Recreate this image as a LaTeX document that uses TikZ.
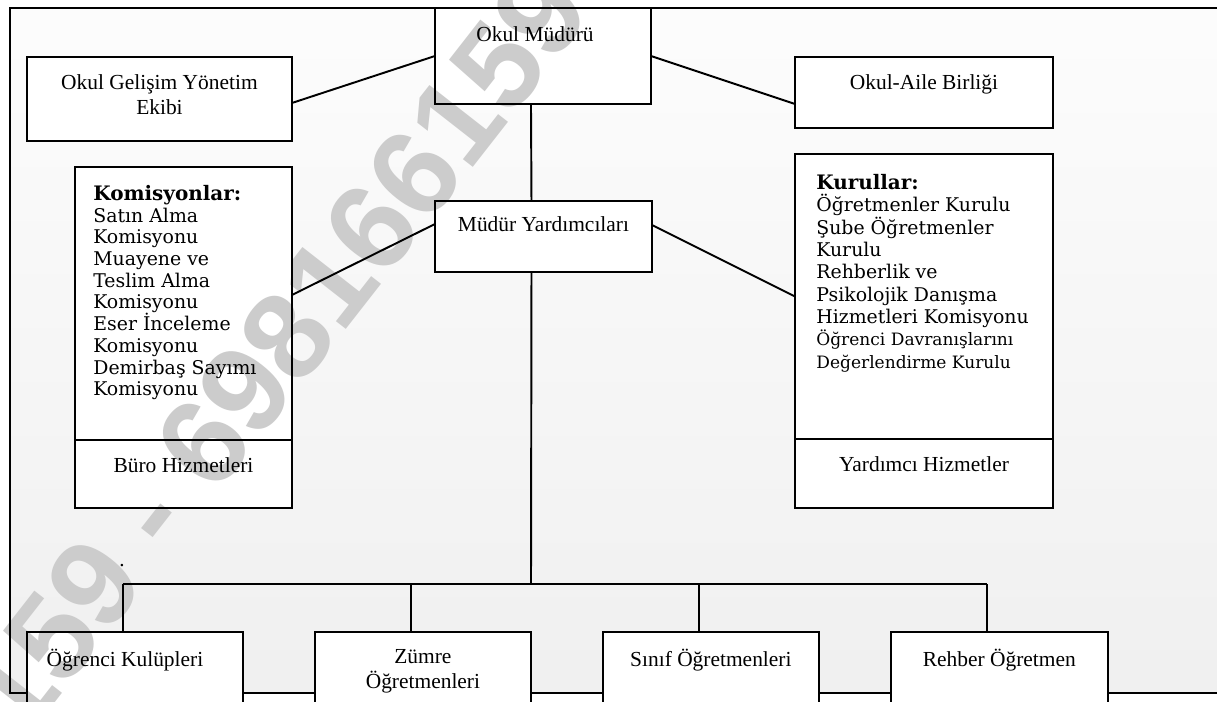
\documentclass[tikz,border=0pt]{standalone}
\usepackage{fontspec}
\setmainfont{Liberation Serif}
\newfontfamily\listfont{DejaVu Serif}
\newfontfamily\markfont{Liberation Sans}
\usetikzlibrary{positioning, backgrounds}

\begin{document}
\begin{tikzpicture}[x=0.02cm, y=-0.02cm,
  box/.style={draw, line width=1.1pt, anchor=north west, inner sep=0pt, outer sep=0pt},
  lbl/.style={anchor=north, inner sep=0pt, align=center, yshift=-0.34cm, font=\fontsize{12.2}{14.5}\selectfont},
  lst/.style={anchor=north west, inner sep=0pt, align=left, font=\listfont\fontsize{10.75}{#1}\selectfont},
  link/.style={line width=1.1pt},
  frame/.style={line width=1.6pt},
  wmark/.style={rotate=52, text=black!20, font=\markfont\bfseries\fontsize{70}{70}\selectfont}]
  \useasboundingbox (0,0) rectangle (1217,702);

  % top row
  \node[box, minimum width=4.32cm, minimum height=1.92cm, label={[lbl, xshift=-0.16cm, yshift=-0.02cm]north:Okul Müdürü}] (mudur) at (435,8) {};
  \node[box, minimum width=5.3cm, minimum height=1.68cm, label={[lbl]north:Okul Gelişim Yönetim\\Ekibi}] (ogye) at (27,57) {};
  \node[box, minimum width=5.16cm, minimum height=1.42cm, label={[lbl]north:Okul-Aile Birliği}] (oab) at (795,57) {};
  \node[box, minimum width=4.34cm, minimum height=1.42cm, label={[lbl, yshift=0.04cm]north:Müdür Yardımcıları}] (myard) at (435,201) {};

  % side boxes
  \node[box, minimum width=4.34cm, minimum height=5.46cm] (komis) at (75,167) {};
  \node[box, minimum width=4.34cm, minimum height=1.36cm, below=0pt of komis, label={[lbl]north:Büro Hizmetleri}] (buro) {};
  \node[lst=12.35pt] (komtxt) at (93,185) {{\fontsize{11.35}{12.35}\selectfont\bfseries Komisyonlar:}\\Satın Alma\\Komisyonu\\Muayene ve\\Teslim Alma\\Komisyonu\\Eser İnceleme\\Komisyonu\\Demirbaş Sayımı\\Komisyonu};

  \node[box, minimum width=5.16cm, minimum height=5.7cm] (kurul) at (795,154) {};
  \node[box, minimum width=5.16cm, minimum height=1.38cm, below=0pt of kurul, label={[lbl]north:Yardımcı Hizmetler}] (yard) {};
  \node[lst=12.7pt] (kurtxt) at (816,174) {{\fontsize{11.35}{12.7}\selectfont\bfseries Kurullar:}\\Öğretmenler Kurulu\\Şube Öğretmenler\\Kurulu\\Rehberlik ve\\Psikolojik Danışma\\Hizmetleri Komisyonu\\{\fontsize{9.7}{12.7}\selectfont Öğrenci Davranışlarını}\\{\fontsize{9.7}{12.7}\selectfont Değerlendirme Kurulu}};

  % bottom row
  \node[box, minimum width=4.32cm, minimum height=2cm, label={[lbl, xshift=-0.2cm]north:Öğrenci Kulüpleri}] (ogr) at (27,632) {};
  \node[box, minimum width=4.32cm, minimum height=2cm, right=1.44cm of ogr, label={[lbl]north:Zümre\\Öğretmenleri}] (zumre) {};
  \node[box, minimum width=4.32cm, minimum height=2cm, right=1.44cm of zumre, label={[lbl]north:Sınıf Öğretmenleri}] (sinif) {};
  \node[box, minimum width=4.34cm, minimum height=2cm, right=1.44cm of sinif, label={[lbl]north:Rehber Öğretmen}] (rehber) {};

  \node[inner sep=0pt, font=\fontsize{12}{14}\selectfont] (dot) at (122,566) {.};

  % links
  \draw[link] ([yshift=-0.08cm]ogye.east) -- (mudur.west);
  \draw[link] (mudur.east) -- ([yshift=-0.23cm]oab.west);
  \draw[link] ([xshift=-0.24cm]mudur.south) -- ([xshift=-0.24cm]myard.north);
  \draw[link] ([yshift=0.25cm]myard.west) -- ([yshift=0.17cm]komis.east);
  \draw[link] ([yshift=0.23cm]myard.east) -- (kurul.west);

  \coordinate (bus) at (531,584);
  \draw[link] ([xshift=-0.24cm]myard.south) -- (bus);
  \draw[link] ([xshift=-0.24cm]ogr.north |- bus) -- ([xshift=-0.24cm]rehber.north |- bus);
  \foreach \n in {ogr,zumre,sinif,rehber}
    \draw[link] ([xshift=-0.24cm]\n.north) -- ([xshift=-0.24cm]\n.north |- bus);

  % frame
  \coordinate (edge) at (10,693);
  \draw[frame] (1217,8) -- (10,8) -- (edge) -- (ogr.west |- edge);
  \foreach \a/\b in {ogr/zumre, zumre/sinif, sinif/rehber}
    \draw[frame] (\a.east |- edge) -- (\b.west |- edge);
  \draw[frame] (rehber.east |- edge) -- (1217,693);

  \begin{pgfonlayer}{background}
    \fill[white] (0,0) rectangle (1217,702);
    \shade[top color=black!1, bottom color=black!6] (10,8) rectangle (1217,693);
    \foreach \n in {mudur,ogye,oab,myard,komis,buro,kurul,yard,ogr,zumre,sinif,rehber}
      \fill[white] (\n.south west) rectangle (\n.north east);
    \node[wmark] (wm) at (275,352) {159 - 698166159};
  \end{pgfonlayer}
\end{tikzpicture}
\end{document}
